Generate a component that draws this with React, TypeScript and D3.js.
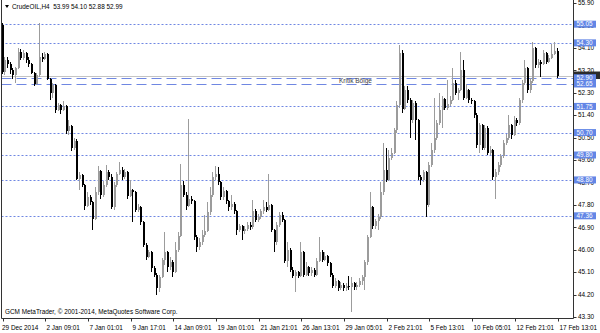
import React from 'react';
import * as d3 from 'd3';

const W = 600;
const H = 333;

// OHLC data (H4 bars). Open of each bar = previous close (first one given).
const firstOpen = 55.0;
const closes = [
  53.15, 53.6, 53.45, 53.2, 53.0, 53.3, 53.95, 53.7, 53.9, 53.6,
  53.45, 53.1, 52.65, 53.0, 53.75, 53.65, 53.85, 52.85, 52.3, 52.6,
  51.6, 51.8, 51.6, 51.75, 50.75, 50.95, 50.1, 50.35, 48.85, 49.0,
  48.6, 47.75, 48.1, 47.9, 47.25, 48.3, 49.15, 48.2, 48.6, 49.1,
  48.9, 47.7, 48.6, 49.05, 49.2, 48.9, 49.1, 48.15, 48.4, 48.3,
  47.6, 47.7, 47.1, 46.2, 45.7, 45.9, 45.25, 45.0, 44.45, 44.9,
  45.6, 45.9, 45.3, 45.5, 45.1, 46.0, 46.55, 48.6, 48.2, 47.75,
  48.05, 47.95, 46.5, 46.1, 46.3, 46.6, 46.75, 47.5, 48.2, 48.9,
  49.05, 48.7, 48.1, 48.35, 47.95, 47.7, 47.85, 47.55, 46.8, 46.95,
  46.75, 46.85, 47.0, 46.9, 47.55, 47.2, 47.3, 47.55, 47.7, 47.6,
  47.8, 46.8, 46.3, 47.0, 47.4, 47.2, 45.55, 46.0, 45.2, 44.95,
  45.1, 44.95, 45.9, 45.0, 45.3, 45.05, 45.2, 45.0, 45.55, 45.9,
  45.6, 45.75, 45.45, 45.0, 44.55, 44.75, 44.45, 44.6, 44.45, 44.55,
  44.5, 44.65, 44.5, 44.6, 44.75, 44.9, 45.5, 46.5, 47.7, 46.95,
  47.15, 47.3, 48.3, 49.2, 48.8, 49.7, 49.9, 50.8, 51.8, 53.9,
  51.65, 52.4, 52.0, 51.2, 51.9, 51.2, 48.9, 48.8, 49.1, 47.8,
  49.4, 50.0, 50.5, 51.1, 51.6, 52.05, 51.7, 51.85, 52.0, 52.7,
  52.3, 52.4, 53.2, 52.1, 52.4, 52.0, 51.95, 51.4, 50.2, 51.0,
  50.1, 50.9, 49.9, 50.0, 48.9, 49.1, 49.4, 49.75, 50.3, 50.5,
  51.0, 50.6, 51.2, 51.1, 52.0, 52.7, 53.3, 52.4, 52.75, 54.1,
  53.4, 53.55, 53.45, 53.9, 53.55, 53.7, 53.85, 53.99, 52.99,
];
const highs = [
  55.1, 53.75, 53.75, 53.55, 53.3, 53.35, 54.1, 54.05, 54.0, 53.95,
  53.75, 53.5, 53.15, 53.1, 55.1, 53.9, 53.95, 53.9, 52.9, 52.7,
  52.65, 51.9, 51.85, 51.95, 51.8, 51.2, 51.0, 50.5, 50.45, 49.1,
  49.05, 48.65, 48.3, 48.2, 47.95, 48.5, 49.35, 49.2, 48.75, 49.4,
  49.2, 49.05, 48.7, 49.1, 49.5, 49.3, 49.25, 49.15, 48.8, 48.45,
  48.35, 47.85, 47.75, 47.15, 46.25, 46.0, 45.95, 45.35, 45.05, 45.0,
  45.65, 46.7, 45.95, 45.7, 45.6, 46.3, 46.7, 49.45, 48.75, 48.3,
  51.25, 48.15, 48.0, 46.6, 46.45, 46.8, 47.4, 47.9, 48.5, 49.1,
  49.35, 49.3, 48.75, 48.5, 48.4, 48.0, 48.2, 47.9, 47.6, 47.05,
  47.0, 46.95, 47.1, 47.1, 48.0, 47.65, 47.45, 47.65, 48.0, 47.9,
  49.05, 47.85, 46.85, 47.1, 47.5, 47.5, 47.25, 46.3, 46.05, 45.3,
  45.2, 45.15, 46.3, 45.95, 45.5, 45.35, 45.3, 45.25, 45.65, 46.5,
  46.0, 45.9, 45.8, 45.5, 45.05, 44.85, 44.8, 44.7, 44.65, 44.65,
  44.95, 44.9, 44.7, 44.7, 44.85, 45.0, 45.6, 46.6, 48.3, 47.75,
  47.25, 47.45, 48.7, 50.3, 50.1, 50.0, 50.1, 50.9, 51.95, 54.2,
  54.0, 52.55, 52.55, 52.1, 52.0, 51.95, 51.25, 49.0, 49.2, 49.15,
  49.5, 50.3, 52.1, 51.2, 52.3, 52.15, 52.1, 52.8, 52.15, 53.3,
  52.8, 52.5, 53.95, 53.6, 52.65, 52.45, 52.1, 52.0, 51.5, 51.1,
  51.05, 51.0, 50.95, 50.15, 50.05, 49.25, 49.5, 49.85, 50.4, 50.65,
  51.4, 51.05, 51.35, 51.3, 52.1, 52.8, 53.6, 53.35, 52.9, 54.35,
  54.15, 53.65, 53.6, 54.0, 53.95, 53.8, 54.25, 54.35, 54.1,
];
const lows = [
  53.05, 53.0, 53.3, 53.05, 52.85, 52.7, 53.25, 53.6, 53.6, 53.5,
  53.35, 53.05, 52.55, 52.6, 52.95, 53.55, 53.6, 52.8, 52.0, 52.1,
  51.5, 51.55, 51.45, 51.55, 50.65, 50.6, 49.95, 50.0, 48.8, 48.4,
  48.5, 47.6, 47.7, 47.8, 46.8, 47.2, 48.2, 48.05, 48.1, 48.5,
  48.8, 47.65, 47.6, 48.5, 49.0, 48.8, 48.85, 48.05, 48.1, 47.1,
  47.5, 47.5, 47.0, 46.1, 45.6, 45.65, 45.1, 44.9, 44.2, 44.3,
  44.85, 45.4, 45.1, 45.2, 44.9, 45.05, 45.9, 46.5, 48.1, 47.6,
  47.7, 47.85, 46.4, 45.9, 46.0, 46.2, 46.5, 46.7, 47.4, 48.1,
  48.8, 48.6, 48.0, 48.0, 47.85, 47.55, 47.6, 47.45, 46.6, 46.7,
  46.4, 46.65, 46.75, 46.8, 46.85, 47.1, 47.1, 47.25, 47.45, 47.5,
  47.55, 46.7, 45.9, 46.2, 46.9, 47.1, 45.45, 45.3, 45.1, 44.85,
  44.3, 44.85, 44.9, 44.9, 44.95, 44.95, 44.95, 44.9, 44.95, 45.5,
  45.5, 45.55, 45.35, 44.9, 44.45, 44.45, 44.35, 44.4, 44.35, 44.35,
  44.4, 43.5, 44.4, 44.4, 44.5, 44.6, 44.4, 45.4, 46.45, 46.85,
  46.85, 46.8, 47.25, 48.2, 48.7, 48.75, 49.6, 49.85, 50.7, 51.7,
  51.5, 51.6, 51.9, 50.5, 51.1, 50.4, 48.8, 48.6, 48.7, 47.3,
  47.7, 49.3, 49.9, 50.4, 51.0, 50.9, 51.6, 51.6, 51.75, 51.95,
  52.2, 52.0, 52.35, 52.0, 52.05, 51.9, 51.85, 51.3, 50.1, 49.9,
  50.0, 50.0, 49.8, 49.8, 48.8, 48.05, 49.0, 49.3, 49.7, 50.2,
  50.4, 50.45, 50.55, 50.95, 51.0, 51.9, 52.6, 52.3, 52.3, 52.7,
  53.3, 53.3, 52.95, 53.4, 53.45, 53.5, 53.65, 53.8, 52.88,
];

const priceTicks = [55.9, 55.0, 54.1, 53.2, 52.3, 51.4, 50.5, 49.6, 48.7, 47.8, 46.9, 46.0, 45.1, 44.2, 43.3];
const dottedLevels = [55.05, 54.3, 51.75, 50.7, 49.8, 48.8, 47.36];
const dashedLevels = [52.9, 52.65];
const bidPrice = 52.99;
const zoneLabel = 'Kritik Bölge';
const timeLabels = [
  '29 Dec 2014', '2 Jan 09:01', '7 Jan 01:01', '9 Jan 17:01', '14 Jan 09:01',
  '19 Jan 01:01', '21 Jan 21:01', '26 Jan 13:01', '29 Jan 05:01', '2 Feb 21:01',
  '5 Feb 13:01', '10 Feb 05:01', '12 Feb 21:01', '17 Feb 13:01',
];
const timeLabelStep = 16;
const titleText = 'CrudeOIL,H4  53.99 54.10 52.88 52.99';
const copyright = 'GCM MetaTrader, © 2001-2014, MetaQuotes Software Corp.';

const FONT = 'Liberation Sans, Arial, sans-serif';
const PLOT_L = 1.5;
const PLOT_R = 573.5;
const PLOT_B = 318.5;
const BLUE = '#6386e6';
const LINE_BLUE = '#6f87e2';

export default function App() {
  const n = closes.length;
  const x = d3.scaleLinear().domain([0, n - 1]).range([2.5, 557.5]);
  const y = d3.scaleLinear().domain([43.3, 55.9]).range([317, 3]);

  const candles = closes.map((c, i) => {
    const o = i === 0 ? firstOpen : closes[i - 1];
    return { o, h: highs[i], l: lows[i], c, i };
  });

  return (
    <svg
      width={W}
      height={H}
      style={{ position: 'fixed', left: 0, top: 0, background: '#fff' }}
      fontFamily={FONT}
    >
      <rect x={0} y={0} width={W} height={H} fill="#fff" />

      {/* levels */}
      {dottedLevels.map((p) => (
        <line key={'d' + p} x1={PLOT_L} x2={PLOT_R} y1={Math.round(y(p)) + 0.5} y2={Math.round(y(p)) + 0.5}
          stroke={LINE_BLUE} strokeWidth={1} strokeDasharray="2,2" />
      ))}
      <line x1={PLOT_L} x2={PLOT_R} y1={Math.round(y(bidPrice)) + 0.5} y2={Math.round(y(bidPrice)) + 0.5}
        stroke="#c4c4c4" strokeWidth={1} />
      {dashedLevels.map((p) => (
        <line key={'s' + p} x1={PLOT_L} x2={PLOT_R} y1={Math.round(y(p)) + 0.5} y2={Math.round(y(p)) + 0.5}
          stroke={LINE_BLUE} strokeWidth={1} strokeDasharray="10,5" />
      ))}
      <text x={339} y={(y(dashedLevels[0]) + y(dashedLevels[1])) / 2 + 2.3} fontSize={6.5} fill="#3c3c46">
        {zoneLabel}
      </text>

      {/* candles */}
      {candles.map((d) => {
        const xc = Math.round(x(d.i));
        const up = d.c >= d.o;
        const col = up ? '#9c9c9c' : '#000';
        const top = Math.round(y(Math.max(d.o, d.c)));
        const bot = Math.round(y(Math.min(d.o, d.c)));
        const hy = Math.round(y(d.h));
        const ly = Math.round(y(d.l));
        return (
          <g key={d.i}>
            <rect x={xc - 1} y={hy} width={1} height={Math.max(1, ly - hy)} fill={col} />
            <rect x={xc - 1} y={top} width={2} height={Math.max(1, bot - top)} fill={col} />
          </g>
        );
      })}

      {/* frame */}
      <line x1={PLOT_L} x2={PLOT_L} y1={0} y2={PLOT_B} stroke="#333" />
      <line x1={PLOT_R} x2={PLOT_R} y1={0} y2={PLOT_B} stroke="#333" />
      <line x1={PLOT_L} x2={PLOT_R} y1={PLOT_B} y2={PLOT_B} stroke="#333" />

      {/* title */}
      <path d="M5,5 L9,5 L7,8 Z" fill="#000" />
      <text x={12} y={9} fontSize={6.4} fill="#000" style={{ whiteSpace: 'pre' }}>{titleText}</text>
      <text x={5} y={314} fontSize={6.4} fill="#000">{copyright}</text>

      {/* right price axis */}
      {priceTicks.map((p) => (
        <g key={'t' + p}>
          <line x1={PLOT_R} x2={PLOT_R + 3} y1={Math.round(y(p)) + 0.5} y2={Math.round(y(p)) + 0.5} stroke="#333" />
          <text x={578} y={y(p) + 2.3} fontSize={6.4} fill="#000">{p.toFixed(2)}</text>
        </g>
      ))}
      {/* bid label (mostly hidden) */}
      <rect x={574} y={y(bidPrice) - 4} width={26} height={7.5} fill="#2b2b2b" />
      {[...dashedLevels, ...dottedLevels].map((p) => (
        <g key={'l' + p}>
          <rect x={574} y={y(p) - 3.5} width={22} height={7} fill={BLUE} />
          <text x={576.5} y={y(p) + 2.3} fontSize={6.4} fill="#fff">{p.toFixed(2)}</text>
        </g>
      ))}

      {/* bottom time axis */}
      {timeLabels.map((t, k) => {
        const xt = Math.round(x(k * timeLabelStep));
        return (
          <g key={'x' + k}>
            <line x1={xt + 0.5} x2={xt + 0.5} y1={PLOT_B} y2={PLOT_B + 3} stroke="#333" />
            <text x={k === 0 ? 2 : xt + 1.5} y={330} fontSize={6.4} fill="#000">{t}</text>
          </g>
        );
      })}
    </svg>
  );
}
